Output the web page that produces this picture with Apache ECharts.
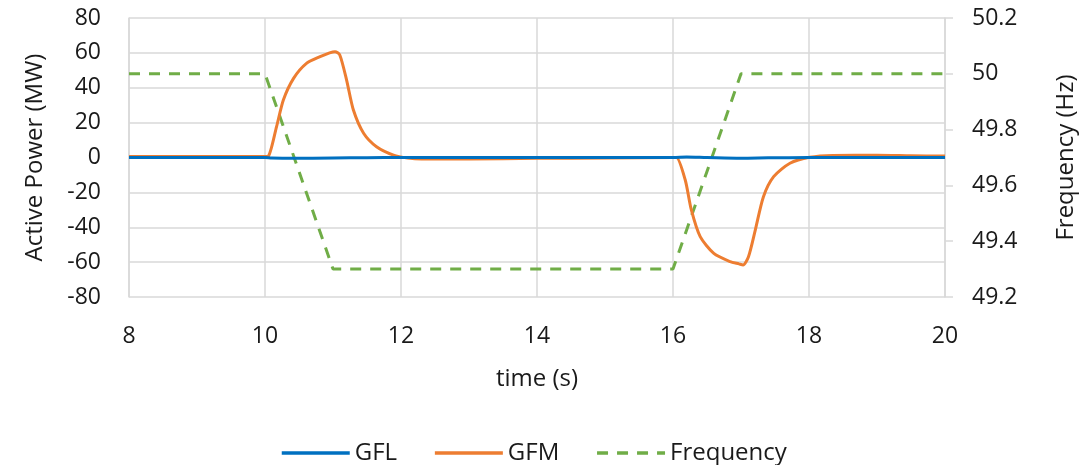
<!DOCTYPE html>
<html>
<head>
<meta charset="utf-8">
<script src="https://cdn.jsdelivr.net/npm/echarts@6/dist/echarts.min.js"></script>
<style>
  html, body { margin: 0; padding: 0; background: #fff; }
  #chart { width: 1089px; height: 465px; }
</style>
</head>
<body>
<div id="chart"></div>
<script>
// Grid-following (GFL) inverter output, MW
var gflTime  = [8, 10, 10.1, 10.4, 11, 11.5, 12, 13, 14, 16, 16.2, 16.5, 17, 17.4, 18, 19, 20];
var gflPower = [0, 0, -0.3, -0.5, -0.3, -0.1, 0, 0, 0, 0, 0.3, 0, -0.4, -0.2, 0, 0, 0];

// Grid-forming (GFM) inverter output, MW
var gfmTime  = [8, 10, 10.05, 10.17, 10.27, 10.42, 10.61, 10.81, 10.95, 11.03, 11.1, 11.2, 11.3, 11.45, 11.64, 11.89, 12.1, 12.3, 13, 14, 15, 16, 16.05, 16.18, 16.27, 16.4, 16.6, 16.84, 16.97, 17.03, 17.11, 17.21, 17.33, 17.48, 17.72, 18.01, 18.35, 19, 19.5, 20];
var gfmPower = [0.6, 0.6, 0.8, 17.7, 33, 45.4, 54, 57.8, 60, 60.7, 58.8, 44.4, 27.2, 13.9, 6.2, 1.4, -0.3, -0.9, -0.8, -0.5, -0.3, 0, 0, -12.9, -30.1, -45.4, -55, -59.7, -61, -61.6, -56.9, -41.6, -22.5, -11, -3.3, 0.1, 1.2, 1.3, 1, 0.8];

// System frequency, Hz
var freqTime  = [8, 10, 11, 16, 17, 20];
var freqValue = [50, 50, 49.3, 49.3, 50, 50];

function pairs(xs, ys) {
  return xs.map(function (x, i) { return [x, ys[i]]; });
}

var font = '"Open Sans", sans-serif';
var textColor = '#1a1a1a';
var gridColor = '#d9d9d9';
var tickSize = 23;
var titleSize = 24;

var chart = echarts.init(document.getElementById('chart'));
chart.setOption({
  animation: false,
  backgroundColor: '#ffffff',
  grid: { left: 129, right: 144, top: 18, bottom: 168 },
  legend: {
    top: 436,
    left: 275,
    itemWidth: 68,
    itemHeight: 14,
    itemGap: 36,
    itemStyle: { opacity: 0 },
    lineStyle: { width: 3.5 },
    textStyle: { fontFamily: font, fontSize: titleSize, color: textColor },
    data: ['GFL', 'GFM', 'Frequency']
  },
  xAxis: {
    type: 'value',
    min: 8, max: 20, interval: 2,
    name: 'time (s)',
    nameLocation: 'middle',
    nameGap: 70,
    nameTextStyle: { fontFamily: font, fontSize: titleSize, color: textColor },
    axisLine: { show: true, lineStyle: { color: gridColor, width: 1.5 } },
    axisTick: { show: false },
    axisLabel: { fontFamily: font, fontSize: tickSize, color: textColor, margin: 28 },
    splitLine: { show: true, lineStyle: { color: gridColor, width: 1.5 } }
  },
  yAxis: [
    {
      type: 'value',
      min: -80, max: 80, interval: 20,
      name: 'Active Power (MW)',
      nameLocation: 'middle',
      nameGap: 82,
      nameRotate: 90,
      nameTextStyle: { fontFamily: font, fontSize: titleSize, color: textColor },
      axisLine: { show: true, lineStyle: { color: gridColor, width: 1.5 } },
      axisTick: { show: false },
      axisLabel: { fontFamily: font, fontSize: tickSize, color: textColor, margin: 28 },
      splitLine: { show: true, lineStyle: { color: gridColor, width: 1.5 } }
    },
    {
      type: 'value',
      min: 49.2, max: 50.2, interval: 0.2,
      name: 'Frequency (Hz)',
      nameLocation: 'middle',
      nameGap: 109,
      nameRotate: 90,
      nameTextStyle: { fontFamily: font, fontSize: titleSize, color: textColor },
      axisLine: { show: true, lineStyle: { color: gridColor, width: 1.5 } },
      axisTick: { show: true, inside: false, length: 8, lineStyle: { color: gridColor, width: 1.5 } },
      axisLabel: {
        fontFamily: font, fontSize: tickSize, color: textColor, margin: 27,
        formatter: function (v) { return String(Math.round(v * 10) / 10); }
      },
      splitLine: { show: false }
    }
  ],
  series: [
    {
      name: 'GFL',
      type: 'line',
      yAxisIndex: 0,
      z: 4,
      symbol: 'none',
      smooth: 0.3,
      lineStyle: { color: '#0070c0', width: 3 },
      itemStyle: { color: '#0070c0' },
      data: pairs(gflTime, gflPower)
    },
    {
      name: 'GFM',
      type: 'line',
      yAxisIndex: 0,
      z: 3,
      symbol: 'none',
      smooth: 0.25,
      lineStyle: { color: '#ed7d31', width: 3 },
      itemStyle: { color: '#ed7d31' },
      data: pairs(gfmTime, gfmPower)
    },
    {
      name: 'Frequency',
      type: 'line',
      yAxisIndex: 1,
      z: 2,
      symbol: 'none',
      lineStyle: { color: '#70ad47', width: 3, type: [11, 9] },
      itemStyle: { color: '#70ad47' },
      data: pairs(freqTime, freqValue)
    }
  ]
});
</script>
</body>
</html>
